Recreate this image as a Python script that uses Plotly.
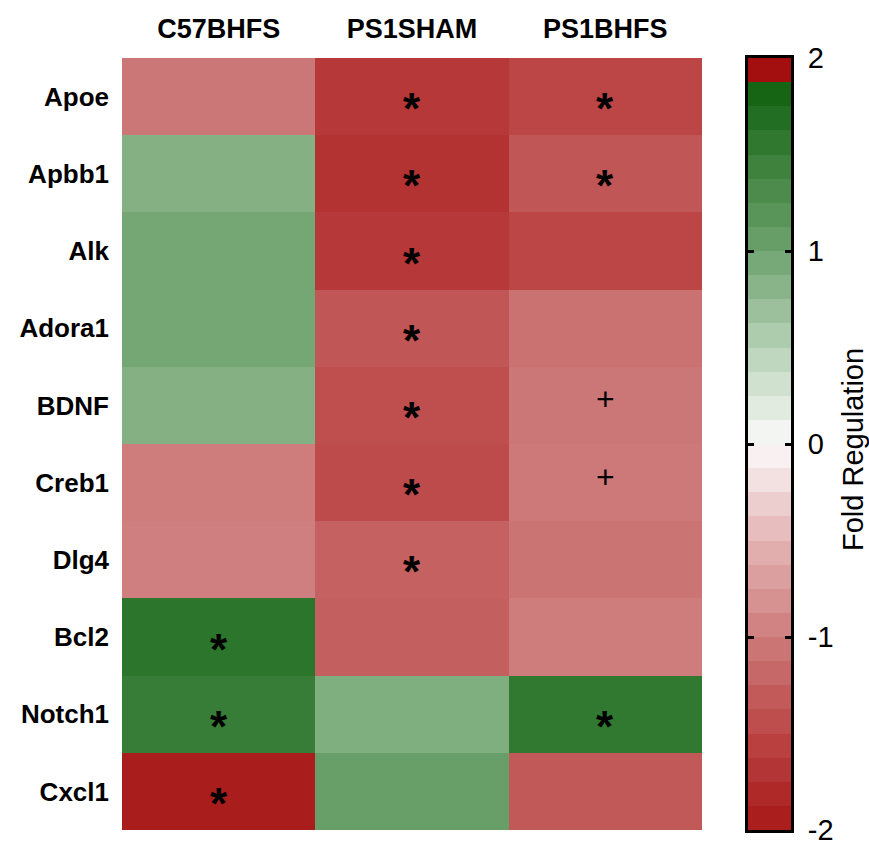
import plotly.graph_objects as go

# genes (rows) and groups (columns)
genes = ["Apoe", "Apbb1", "Alk", "Adora1", "BDNF", "Creb1", "Dlg4", "Bcl2", "Notch1", "Cxcl1"]
groups = ["C57BHFS", "PS1SHAM", "PS1BHFS"]

# fold regulation per group
c57bhfs = [-1.05, 0.85, 0.95, 0.95, 0.85, -1.0, -0.97, 1.6, 1.5, -1.95]
ps1sham = [-1.65, -1.72, -1.65, -1.35, -1.42, -1.45, -1.25, -1.27, 0.88, 1.05]
ps1bhfs = [-1.5, -1.35, -1.5, -1.1, -1.05, -1.03, -1.07, -1.0, 1.55, -1.32]

# significance marks
c57_marks = ["", "", "", "", "", "", "", "*", "*", "*"]
sham_marks = ["*", "*", "*", "*", "*", "*", "*", "", "", ""]
bhfs_marks = ["*", "*", "", "", "+", "+", "", "", "*", ""]

cbar_ticks = [-2, -1, 0, 1, 2]
n_bands = 32

FONT = "Liberation Sans, Arial, sans-serif"
W, H = 869, 841

# red -> white -> green scale
anchors = [(-2.0, (168, 24, 24)), (-1.5, (188, 70, 70)), (-1.0, (206, 124, 124)),
           (-0.5, (228, 180, 180)), (0.0, (252, 250, 250)), (0.5, (182, 210, 182)),
           (1.0, (110, 162, 110)), (1.5, (55, 125, 55)), (2.0, (0, 86, 0))]


def rgb(c):
    return "rgb(%d,%d,%d)" % c


def color_at(v):
    for (v0, c0), (v1, c1) in zip(anchors[:-1], anchors[1:]):
        if v0 <= v <= v1:
            t = (v - v0) / (v1 - v0)
            return tuple(round(a + (b - a) * t) for a, b in zip(c0, c1))
    return anchors[-1][1]


def px_x(x):
    return x / W


def px_y(y):
    return 1 - y / H


scale = [[(v + 2) / 4, rgb(c)] for v, c in anchors]

# stepped colour bar, top band wraps to red as in the original
step = 4 / n_bands
band_mid = [-2 + step * (i + 0.5) for i in range(n_bands)]
band_cols = [rgb(color_at(v)) for v in band_mid]
band_cols[-1] = "rgb(163,14,14)"
band_scale = []
for i, c in enumerate(band_cols):
    band_scale += [[i / n_bands, c], [(i + 1) / n_bands, c]]

z = [list(r) for r in zip(c57bhfs, ps1sham, ps1bhfs)]

fig = go.Figure()
fig.add_trace(go.Heatmap(z=z, x=groups, y=genes, colorscale=scale, zmin=-2, zmax=2,
                         showscale=False, hoverinfo="skip"))
fig.add_trace(go.Heatmap(z=[[v] for v in band_mid], x=[0], y=band_mid, colorscale=band_scale,
                         zmin=-2, zmax=2, showscale=False, xaxis="x2", yaxis="y2",
                         hoverinfo="skip"))

for col, marks in zip(groups, [c57_marks, sham_marks, bhfs_marks]):
    for g, m in zip(genes, marks):
        if m:
            fig.add_annotation(x=col, y=g, text=m, showarrow=False, xref="x", yref="y",
                               yshift=-12 if m == "*" else 6,
                               font=dict(family=FONT, size=44 if m == "*" else 32,
                                         color="black", weight="bold" if m == "*" else "normal"))

fig.add_annotation(x=px_x(853), y=px_y(450), xref="paper", yref="paper", text="Fold Regulation",
                   xanchor="center", yanchor="middle",
                   textangle=-90, showarrow=False, font=dict(family=FONT, size=29, color="black"))

y_dom = [px_y(830), px_y(58)]
fig.update_layout(
    width=W, height=H, margin=dict(l=0, r=0, t=0, b=0),
    paper_bgcolor="white", plot_bgcolor="white", showlegend=False,
    xaxis=dict(domain=[px_x(122), px_x(702)], side="top", showgrid=False, zeroline=False,
               ticks="", ticklabelstandoff=14, automargin=False,
               tickfont=dict(family=FONT, size=27, color="black", weight="bold")),
    yaxis=dict(domain=y_dom, autorange="reversed", showgrid=False, zeroline=False,
               ticks="", ticklabelstandoff=12, automargin=False,
               tickfont=dict(family=FONT, size=26, color="black", weight="bold")),
    xaxis2=dict(domain=[px_x(748), px_x(791)], range=[-0.5, 0.5], anchor="y2",
                showticklabels=False, showgrid=False, zeroline=False, ticks="",
                automargin=False,
                showline=True, linewidth=3, linecolor="black", mirror=True),
    yaxis2=dict(domain=y_dom, range=[-2, 2], anchor="x2", side="right",
                tickvals=cbar_ticks, ticktext=[str(t) for t in cbar_ticks],
                ticks="inside", ticklen=6, tickwidth=3, tickcolor="black",
                showline=True, linewidth=3, linecolor="black", mirror="ticks",
                showgrid=False, zeroline=False, ticklabelstandoff=8, automargin=False,
                ticklabeloverflow="allow",
                tickfont=dict(family=FONT, size=29, color="black")),
)

# drop the default page margin so the figure fills the window exactly
fig.write_html("out.html", config={"displayModeBar": False},
               post_script="document.body.style.margin='0';"
                           "document.body.style.overflow='hidden';")
